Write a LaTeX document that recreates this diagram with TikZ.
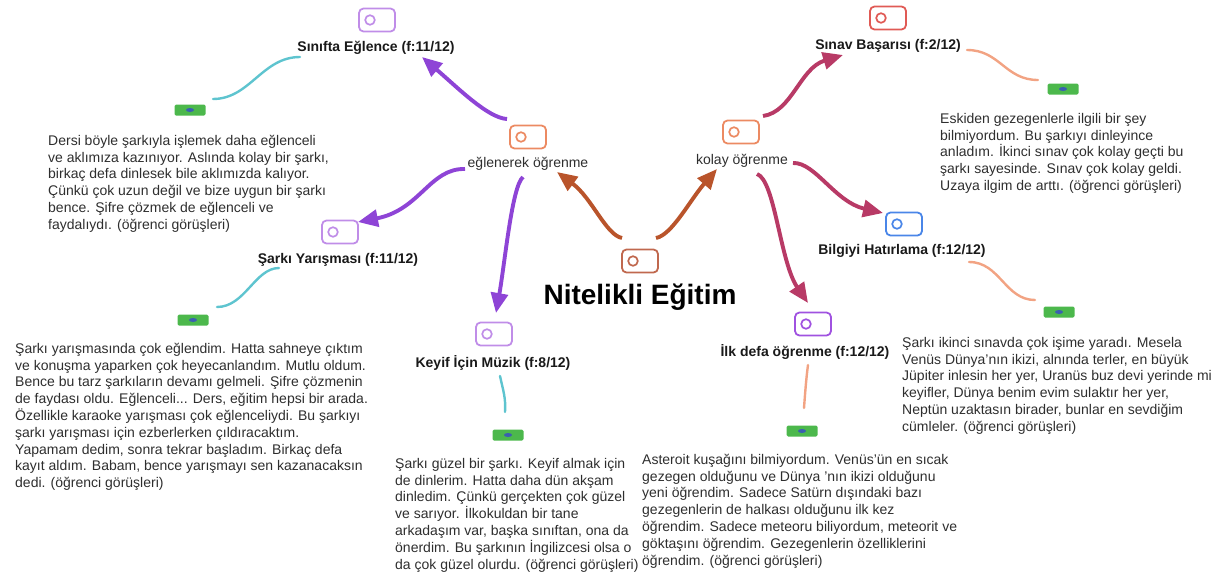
\documentclass[tikz,border=0pt]{standalone}
\usepackage{fontspec}
\setmainfont{Liberation Sans}
\usetikzlibrary{arrows.meta}
\definecolor{lav}{HTML}{C08DE8}
\definecolor{purp}{HTML}{A052E0}
\definecolor{orng}{HTML}{EC8A62}
\definecolor{brn}{HTML}{C0684E}
\definecolor{redc}{HTML}{E05A55}
\definecolor{bluc}{HTML}{4A86E8}
\definecolor{arP}{HTML}{8E44D6}
\definecolor{arB}{HTML}{B9542B}
\definecolor{arC}{HTML}{B83A66}
\definecolor{teal2}{HTML}{5EC4CF}
\definecolor{salm}{HTML}{F2A383}
\definecolor{mgreen}{HTML}{4CB84C}
\definecolor{mblue}{HTML}{3A5FB0}
\definecolor{bodygray}{HTML}{2E2E2E}
\tikzset{
  icon/.style={draw=#1, line width=1.8pt, rounded corners=4.5pt, minimum width=36pt,
    minimum height=23pt, inner sep=0pt,
    path picture={\draw[#1, line width=1.7pt] ([xshift=11pt]path picture bounding box.west) circle (4.8pt);}},
  minus/.style={fill=mgreen, minimum width=31pt, minimum height=11pt, inner sep=0pt,
    rounded corners=1.5pt,
    path picture={\fill[mblue] (path picture bounding box.center) ellipse (4pt and 2pt);}},
  ttl/.style={font=\fontsize{14}{16}\selectfont\bfseries, text=black!90, inner sep=0pt},
  mid/.style={font=\fontsize{14}{16}\selectfont, text=bodygray, inner sep=0pt},
  body/.style={anchor=north west, align=left, inner sep=0pt,
    font=\fontsize{14}{16.8}\selectfont, text=bodygray},
  arr/.style={line width=3.9pt, -{Triangle[length=20pt,width=17pt]}, draw=#1},
  thin/.style={line width=2.4pt, draw=#1, line cap=round},
}
\begin{document}
\begin{tikzpicture}[x=1pt,y=-1pt]
\useasboundingbox (0,0) rectangle (1224,573);

% center
\node[icon=brn] (cI) at (640,261) {};
\node[font=\fontsize{28}{32}\selectfont\bfseries, inner sep=0pt] (cT) at (640,297) {Nitelikli Eğitim};

% level 1
\node[icon=orng] (eI) at (528,137) {};
\node[mid] (eT) at (528,164) {eğlenerek öğrenme};
\node[icon=orng] (kI) at (741,132) {};
\node[mid] (kT) at (742,161) {kolay öğrenme};

% leaves
\node[icon=lav] (sI) at (377,20) {};
\node[ttl] (sT) at (376,48) {Sınıfta Eğlence (f:11/12)};
\node[minus] (sM) at (190,110) {};

\node[icon=lav] (yI) at (340,232) {};
\node[ttl] (yT) at (338,260) {Şarkı Yarışması (f:11/12)};
\node[minus] (yM) at (193,320) {};

\node[icon=lav] (mI) at (494,334) {};
\node[ttl] (mT) at (493,363) {Keyif İçin Müzik (f:8/12)};
\node[minus] (mM) at (508,435) {};

\node[icon=purp] (iI) at (813,324) {};
\node[ttl] (iT) at (805,352) {İlk defa öğrenme (f:12/12)};
\node[minus] (iM) at (802,431) {};

\node[icon=redc] (bI) at (888,18) {};
\node[ttl] (bT) at (888,46) {Sınav Başarısı (f:2/12)};
\node[minus] (bM) at (1063,89) {};

\node[icon=bluc] (hI) at (904,224) {};
\node[ttl] (hT) at (902,251) {Bilgiyi Hatırlama (f:12/12)};
\node[minus] (hM) at (1059,312) {};

% body texts
\node[body] (sB) at (48,132) {\rule{0pt}{13pt}Dersi böyle şarkıyla işlemek daha eğlenceli\\
ve aklımıza kazınıyor. Aslında kolay bir şarkı,\\
birkaç defa dinlesek bile aklımızda kalıyor.\\
Çünkü çok uzun değil ve bize uygun bir şarkı\\
bence. Şifre çözmek de eğlenceli ve\\
faydalıydı. (öğrenci görüşleri)};

\node[body] (yB) at (15,340) {\rule{0pt}{13pt}Şarkı yarışmasında çok eğlendim. Hatta sahneye çıktım\\
ve konuşma yaparken çok heyecanlandım. Mutlu oldum.\\
Bence bu tarz şarkıların devamı gelmeli. Şifre çözmenin\\
de faydası oldu. Eğlenceli... Ders, eğitim hepsi bir arada.\\
Özellikle karaoke yarışması çok eğlenceliydi. Bu şarkıyı\\
şarkı yarışması için ezberlerken çıldıracaktım.\\
Yapamam dedim, sonra tekrar başladım. Birkaç defa\\
kayıt aldım. Babam, bence yarışmayı sen kazanacaksın\\
dedi. (öğrenci görüşleri)};

\node[body] (mB) at (395,455) {\rule{0pt}{13pt}Şarkı güzel bir şarkı. Keyif almak için\\
de dinlerim. Hatta daha dün akşam\\
dinledim. Çünkü gerçekten çok güzel\\
ve sarıyor. İlkokuldan bir tane\\
arkadaşım var, başka sınıftan, ona da\\
önerdim. Bu şarkının İngilizcesi olsa o\\
da çok güzel olurdu. (öğrenci görüşleri)};

\node[body] (iB) at (642,451) {\rule{0pt}{13pt}Asteroit kuşağını bilmiyordum. Venüs'ün en sıcak\\
gezegen olduğunu ve Dünya 'nın ikizi olduğunu\\
yeni öğrendim. Sadece Satürn dışındaki bazı\\
gezegenlerin de halkası olduğunu ilk kez\\
öğrendim. Sadece meteoru biliyordum, meteorit ve\\
göktaşını öğrendim. Gezegenlerin özelliklerini\\
öğrendim. (öğrenci görüşleri)};

\node[body] (bB) at (940,110) {\rule{0pt}{13pt}Eskiden gezegenlerle ilgili bir şey\\
bilmiyordum. Bu şarkıyı dinleyince\\
anladım. İkinci sınav çok kolay geçti bu\\
şarkı sayesinde. Sınav çok kolay geldi.\\
Uzaya ilgim de arttı. (öğrenci görüşleri)};

\node[body] (hB) at (902,334) {\rule{0pt}{13pt}Şarkı ikinci sınavda çok işime yaradı. Mesela\\
Venüs Dünya'nın ikizi, alnında terler, en büyük\\
Jüpiter inlesin her yer, Uranüs buz devi yerinde mi\\
keyifler, Dünya benim evim sulaktır her yer,\\
Neptün uzaktasın birader, bunlar en sevdiğim\\
cümleler. (öğrenci görüşleri)};

% arrow end coordinates
\coordinate (a1s) at (622,238); \coordinate (a1e) at (557,172);
\coordinate (a2s) at (656,238); \coordinate (a2e) at (717,169);
\coordinate (a3s) at (507,119); \coordinate (a3e) at (422,57);
\coordinate (a4s) at (465,169); \coordinate (a4e) at (358,222);
\coordinate (a5s) at (523,177); \coordinate (a5e) at (496,313);
\coordinate (a6s) at (763,116); \coordinate (a6e) at (843,55);
\coordinate (a7s) at (793,163); \coordinate (a7e) at (883,213);
\coordinate (a8s) at (757,174); \coordinate (a8e) at (808,303);

\draw[arr=arB] (a1s) .. controls (606,235) and (592,198) .. (a1e);
\draw[arr=arB] (a2s) .. controls (672,235) and (690,200) .. (a2e);
\draw[arr=arP] (a3s) .. controls (488,118) and (458,88) .. (a3e);
\draw[arr=arP] (a4s) .. controls (430,168) and (420,210) .. (a4e);
\draw[arr=arP] (a5s) .. controls (512,186) and (505,262) .. (a5e);
\draw[arr=arC] (a6s) .. controls (792,112) and (800,68) .. (a6e);
\draw[arr=arC] (a7s) .. controls (815,162) and (835,202) .. (a7e);
\draw[arr=arC] (a8s) .. controls (775,180) and (780,262) .. (a8e);

% thin connectors
\coordinate (c1s) at (300,57); \coordinate (c1e) at (213,99);
\coordinate (c2s) at (279,268); \coordinate (c2e) at (217,307);
\coordinate (c3s) at (500,376); \coordinate (c3e) at (505,412);
\coordinate (c4s) at (808,365); \coordinate (c4e) at (804,408);
\coordinate (c5s) at (967,50); \coordinate (c5e) at (1038,80);
\coordinate (c6s) at (969,262); \coordinate (c6e) at (1035,300);
\draw[thin=teal2] (c1s) .. controls (262,57) and (250,99) .. (c1e);
\draw[thin=teal2] (c2s) .. controls (255,268) and (245,307) .. (c2e);
\draw[thin=teal2] (c3s) .. controls (503,390) and (506,398) .. (c3e);
\draw[thin=salm] (c4s) .. controls (806,380) and (805,395) .. (c4e);
\draw[thin=salm] (c5s) .. controls (1000,50) and (1005,80) .. (c5e);
\draw[thin=salm] (c6s) .. controls (1000,262) and (1005,300) .. (c6e);
\end{tikzpicture}
\end{document}
